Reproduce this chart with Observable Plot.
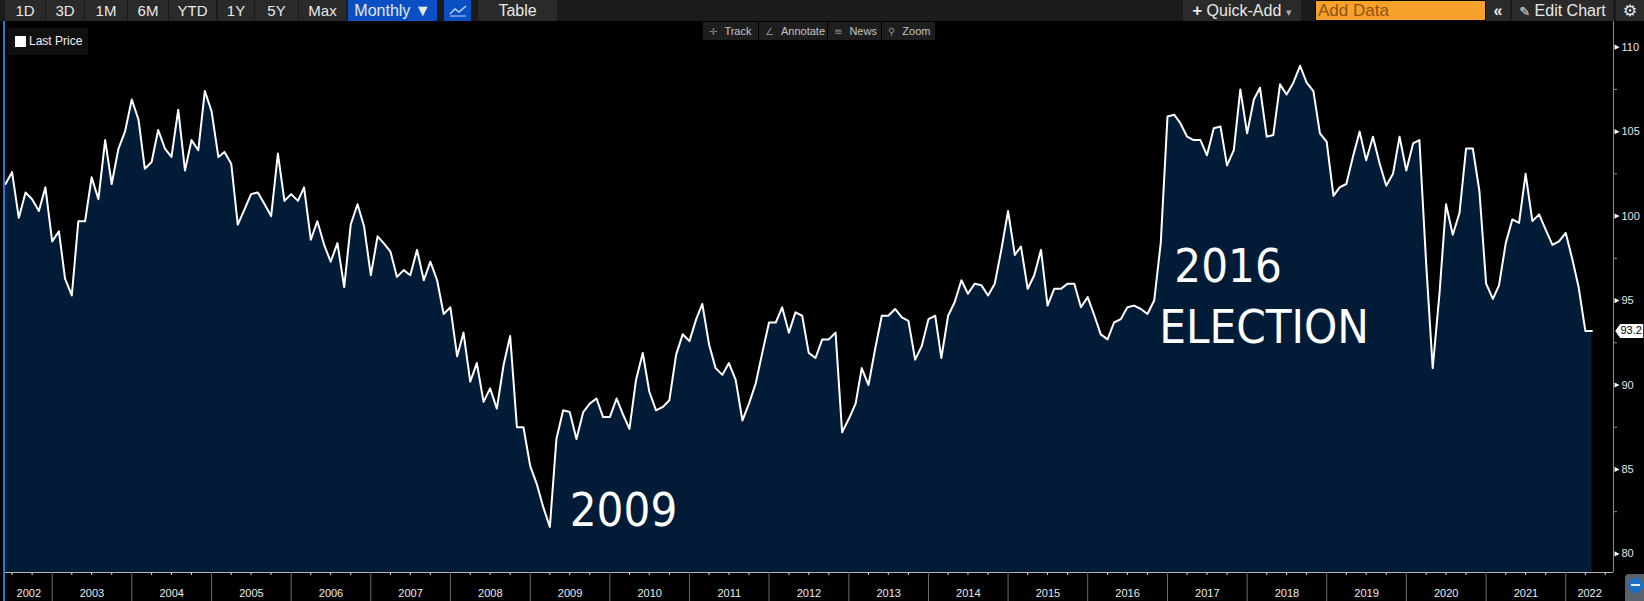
<!DOCTYPE html>
<html>
<head>
<meta charset="utf-8">
<script src="https://cdn.jsdelivr.net/npm/d3@7"></script>
<script src="https://cdn.jsdelivr.net/npm/@observablehq/plot@0.6"></script>
<style>
  html, body { margin: 0; padding: 0; background: #000; width: 1644px; height: 601px; overflow: hidden;
    font-family: "Liberation Sans", Arial, sans-serif; }
  #bar { position: absolute; left: 0; top: 0; width: 1644px; height: 21px; background: #1b1b1b; }
  .b { position: absolute; top: 0; height: 21px; line-height: 21px; background: #2a2a2a; color: #e8e8e8;
    font-size: 15px; text-align: center; white-space: nowrap; }
  .blue { background: #0a50c4; }
  .r { font-size: 16px; }
  #chart { position: absolute; left: 0; top: 21px; }
  #leftline { position: absolute; left: 3px; top: 21px; width: 2px; height: 580px; background: #1f7ad6; }
  #legend { position: absolute; left: 8px; top: 28px; width: 80px; height: 27px; background: #101010; }
  #legend .chk { position: absolute; left: 7px; top: 8px; width: 11px; height: 11px; background: #fff; }
  #legend .t { position: absolute; left: 21px; top: 6px; font-size: 12px; color: #f0f0f0; }
  .mini { position: absolute; top: 22px; height: 18px; line-height: 18px; background: #1e1e1e; color: #c4c4c4;
    font-size: 11px; white-space: nowrap; }
  .mini span.i { color: #8a8a8a; font-family: "DejaVu Sans", sans-serif; margin: 0 7px 0 6px; font-size: 10px; }
  #corner { position: absolute; left: 1625px; top: 574px; width: 26px; height: 30px; background: #5a6270; border-radius: 4px; }
  #corner .c { position: absolute; left: 3px; top: 4px; width: 15px; height: 15px; border-radius: 8px; background: #1d6fc4; }
  #corner .c i { position: absolute; left: 3px; top: 6px; width: 9px; height: 2px; background: #e8f0fa; }
</style>
</head>
<body>
<div id="bar">
  <div class="b" style="left:5px;width:40px">1D</div>
  <div class="b" style="left:46px;width:38px">3D</div>
  <div class="b" style="left:85px;width:42px">1M</div>
  <div class="b" style="left:128px;width:40px">6M</div>
  <div class="b" style="left:169px;width:47px">YTD</div>
  <div class="b" style="left:218px;width:36px">1Y</div>
  <div class="b" style="left:255px;width:43px">5Y</div>
  <div class="b" style="left:299px;width:47px">Max</div>
  <div class="b blue" style="left:348px;width:89px;font-size:16px">Monthly &#9660;</div>
  <div class="b blue" style="left:444px;width:27px">
    <svg width="20" height="14" style="margin-top:3px"><polyline points="2,11 7,6 11,9 18,3" fill="none" stroke="#bcd4ff" stroke-width="1.4"/><line x1="2" y1="13" x2="18" y2="13" stroke="#bcd4ff" stroke-width="1"/></svg>
  </div>
  <div class="b" style="left:478px;width:79px;font-size:16px">Table</div>
  <div class="b r" style="left:1183px;width:118px"><b style="font-size:17px">+</b> Quick-Add <span style="color:#aaa;font-size:11px">&#9662;</span></div>
  <div class="b r" style="left:1315px;width:167px;height:19px;line-height:19px;background:#f7a12c;color:#8e540f;text-align:left;padding-left:2px;border:1px solid #000;font-size:17px">Add Data</div>
  <div class="b r" style="left:1486px;width:24px;font-weight:bold">&#171;</div>
  <div class="b r" style="left:1512px;width:101px"><span style="font-family:'DejaVu Sans';font-size:13px">&#9998;</span> Edit Chart</div>
  <div class="b r" style="left:1616px;width:28px;font-family:'DejaVu Sans'">&#9881;</div>
</div>
<div id="chart"></div>
<div id="leftline"></div>
<div id="legend"><div class="chk"></div><div class="t">Last Price</div></div>
<div class="mini" style="left:703px;width:55px"><span class="i">&#10011;</span>Track</div>
<div class="mini" style="left:759px;width:68px"><span class="i">&#8736;</span>Annotate</div>
<div class="mini" style="left:828px;width:53px"><span class="i">&#8801;</span>News</div>
<div class="mini" style="left:882px;width:53px"><span class="i">&#9906;</span>Zoom</div>
<div id="corner"><div class="c"><i></i></div></div>

<script>
// Monthly readings, first reading = May 2002 (plotted at month end)
const firstYear = 2002, firstMonth = 5;
const lastPrice2002to2007 = [
  101.9, 102.6, 99.9, 101.4, 101.0, 100.3, 101.7, 98.5, 99.1, 96.3,
  95.3, 99.7, 99.7, 102.3, 101.0, 104.5, 101.9, 104.0, 105.0, 106.9,
  105.7, 102.8, 103.2, 105.1, 104.0, 103.5, 106.3, 102.7, 104.5, 103.9,
  107.4, 106.2, 103.5, 103.8, 103.1, 99.5, 100.4, 101.3, 101.4, 100.7,
  100.0, 103.7, 100.9, 101.3, 100.9, 101.7, 98.6, 99.7, 98.3, 97.3,
  98.4, 95.8, 99.5, 100.7, 99.4, 96.5, 98.8, 98.4, 97.9, 96.4
];
const lastPrice2007to2012 = [
  96.8, 96.5, 98.0, 96.2, 97.3, 96.2, 94.2, 94.6, 91.7, 93.1,
  90.2, 91.3, 89.0, 89.8, 88.6, 91.2, 92.9, 87.5, 87.5, 85.2,
  84.1, 82.8, 81.6, 86.8, 88.5, 88.4, 86.8, 88.4, 88.9, 89.2,
  88.1, 88.1, 89.2, 88.3, 87.4, 90.3, 91.9, 89.6, 88.5, 88.7,
  89.1, 91.8, 93.0, 92.6, 93.9, 94.8, 92.4, 91.0, 90.6, 91.3,
  90.3, 87.9, 88.9, 90.1, 91.9, 93.7, 93.7, 94.6, 93.1, 94.3
];
const lastPrice2012to2017 = [
  94.1, 91.9, 91.6, 92.7, 92.7, 93.1, 87.2, 88.0, 88.9, 91.0,
  90.0, 92.1, 94.1, 94.1, 94.5, 94.0, 93.8, 91.5, 92.3, 93.9,
  94.1, 91.6, 94.1, 94.9, 96.2, 95.4, 96.0, 95.9, 95.3, 96.0,
  98.0, 100.3, 97.7, 98.2, 95.7, 96.5, 98.0, 94.7, 95.7, 95.7,
  96.0, 96.0, 94.6, 95.2, 94.1, 93.0, 92.7, 93.7, 93.9, 94.6,
  94.7, 94.5, 94.2, 95.0, 98.4, 105.9, 106.0, 105.5, 104.7, 104.5
];
const lastPrice2017to2022 = [
  104.5, 103.6, 105.2, 105.3, 103.0, 103.9, 107.5, 104.9, 106.9, 107.6,
  104.7, 104.8, 107.8, 107.2, 107.9, 108.9, 107.9, 107.4, 104.9, 104.4,
  101.2, 101.7, 101.9, 103.5, 105.0, 103.3, 104.7, 103.1, 101.8, 102.5,
  104.7, 102.7, 104.3, 104.5, 97.2, 91.0, 95.4, 100.7, 98.9, 100.2,
  104.0, 104.0, 101.5, 96.0, 95.1, 95.9, 98.4, 99.8, 99.6, 102.5,
  99.7, 100.1, 99.2, 98.3, 98.5, 99.0, 97.4, 95.8, 93.2, 93.2
];
const yTicks = [80, 85, 90, 95, 100, 105, 110];
const yMinorTicks = [82.5, 87.5, 92.5, 97.5, 102.5, 107.5];
const annotations = [
  {label: "2009", date: "2009-07-01", value: 81.68},
  {label: "2016", date: "2017-02-01", value: 96.07},
  {label: "ELECTION", date: "2016-11-24", value: 92.46}
];
const yDomain = [78.9, 111.52];
const xDomain = [new Date(Date.UTC(2002, 5, 1)), new Date(Date.UTC(2022, 7, 8))];

const values = [...lastPrice2002to2007, ...lastPrice2007to2012, ...lastPrice2012to2017, ...lastPrice2017to2022];
const data = values.map((v, i) => ({date: new Date(Date.UTC(firstYear, firstMonth + i, 1)), value: v}));
const last = data[data.length - 1];

const quarterTicks = d3.utcMonth.every(3).range(xDomain[0], xDomain[1]).filter(d => d.getUTCMonth() !== 0);
const yearTicks = d3.utcYear.range(xDomain[0], xDomain[1]);
const labelTicks = d3.range(xDomain[0].getUTCFullYear(), xDomain[1].getUTCFullYear() + 1).map(y => {
  const a = Math.max(+xDomain[0], Date.UTC(y, 0, 1));
  const b = Math.min(+xDomain[1], Date.UTC(y + 1, 0, 1));
  return new Date((a + b) / 2);
});

const flag = {draw(ctx) { ctx.moveTo(0, -2.6); ctx.lineTo(5, 0); ctx.lineTo(0, 2.6); ctx.closePath(); }};
const priceTag = {draw(ctx) { ctx.moveTo(0, 0); ctx.lineTo(5, -7); ctx.lineTo(28, -7); ctx.lineTo(28, 7); ctx.lineTo(5, 7); ctx.closePath(); }};

const chart = Plot.plot({
  width: 1644,
  height: 580,
  marginLeft: 5,
  marginRight: 31,
  marginTop: 0,
  marginBottom: 29,
  style: {background: "#000", color: "#e6e6e6", fontFamily: "'Liberation Sans', Arial, sans-serif", fontSize: "11px", overflow: "visible"},
  x: {type: "utc", domain: xDomain, label: null},
  y: {domain: yDomain, label: null},
  marks: [
    Plot.areaY(data, {x: "date", y1: yDomain[0], y2: "value", fill: "#021c38"}),
    Plot.lineY(data, {x: "date", y: "value", stroke: "#ffffff", strokeWidth: 2}),
    Plot.ruleY([yDomain[0]], {stroke: "#b4b4b4"}),
    Plot.ruleX([xDomain[1]], {stroke: "#8c8c8c"}),
    Plot.axisX({ticks: quarterTicks, tickSize: 3, tickFormat: () => "", stroke: "#d8d8d8", label: null}),
    Plot.axisX({ticks: yearTicks, tickSize: 30, tickFormat: () => "", stroke: "#6c6c6c", label: null}),
    Plot.axisX({ticks: labelTicks, tickSize: 0, tickPadding: 17, tickFormat: d => String(d.getUTCFullYear()), fill: "#ececec", fontSize: 11, label: null}),
    Plot.axisY({anchor: "right", ticks: yMinorTicks, tickSize: 3, tickFormat: () => "", stroke: "#8c8c8c", label: null}),
    Plot.axisY({anchor: "right", ticks: yTicks, tickSize: 0, tickPadding: 8, fill: "#e6e6e6", fontSize: 11, label: null}),
    Plot.dot(yTicks, {y: d => d, frameAnchor: "right", symbol: flag, r: 3, fill: "#ffffff", stroke: null, dx: 1}),
    Plot.dot([last], {y: "value", frameAnchor: "right", symbol: priceTag, r: 3, fill: "#ffffff", stroke: null, dx: 1.7}),
    Plot.text([last], {y: "value", frameAnchor: "right", text: d => d.value.toFixed(1), fill: "#000", dx: 7, textAnchor: "start", fontSize: 11}),
    Plot.text(annotations, {x: d => new Date(d.date), y: "value", text: "label", textAnchor: "start", lineAnchor: "bottom",
      fontSize: 47, fontFamily: "'DejaVu Sans Condensed', 'DejaVu Sans', sans-serif", fill: "#ffffff"})
  ]
});
document.getElementById("chart").appendChild(chart);
</script>
</body>
</html>
